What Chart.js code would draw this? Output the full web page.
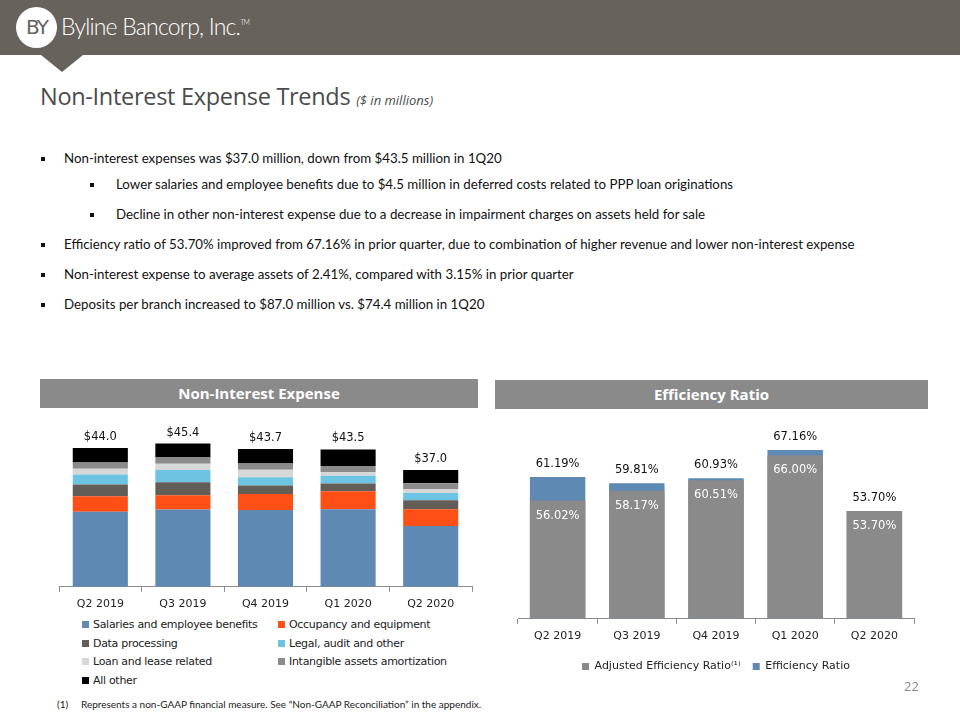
<!DOCTYPE html>
<html>
<head>
<meta charset="utf-8">
<script src="https://cdn.jsdelivr.net/npm/chart.js@4.4.0/dist/chart.umd.min.js"></script>
<style>
  body { margin: 0; width: 960px; height: 720px; position: relative; background: #fff; font-family: Lato, sans-serif; overflow: hidden; }
  .abs { position: absolute; }
  #header { left: 0; top: 0; width: 960px; height: 55px; background: #67625b; }
  #pointer { left: 41px; top: 55px; width: 0; height: 0; border-left: 21px solid transparent; border-right: 21px solid transparent; border-top: 17px solid #67625b; }
  #logoCircle { left: 16px; top: 7px; width: 41px; height: 41px; border-radius: 50%; background: #fff; color: #67625b; font: 400 20px "DejaVu Sans", sans-serif; text-align: center; line-height: 41px; letter-spacing: -2px; }
  #logoText { left: 61px; top: 12px; color: #fff; font: 300 23px Lato, sans-serif; letter-spacing: -0.8px; }
  #logoText sup { font-size: 7px; vertical-align: 10px; }
  #title { left: 40px; top: 80px; color: #4b4b4b; font: 23.5px "Open Sans", sans-serif; letter-spacing: -0.3px; white-space: nowrap; }
  #title i { font-size: 13px; letter-spacing: 0; }
  .bul { font-size: 13.3px; color: #111; white-space: nowrap; }
  .bul::before { content: ""; position: absolute; width: 4px; height: 4px; background: #111; top: 7px; }
  .l1 { left: 64px; } .l1::before { left: -23px; }
  .l2 { left: 116px; } .l2::before { left: -26px; }
  .sect { height: 29px; background: #8a8a8b; color: #fff; font: 700 15px "Open Sans", sans-serif; text-align: center; line-height: 29px; }
  .leg { font: 11px "DejaVu Sans", sans-serif; color: #222; white-space: nowrap; letter-spacing: -0.3px; }
  .leg span { display: inline-block; width: 7px; height: 7px; margin-right: 4px; }
  #foot { left: 57px; top: 698px; font-size: 10px; color: #222; white-space: nowrap; }
  #page { left: 904px; top: 677px; font: 13px "Open Sans", sans-serif; color: #8a8a8a; }
</style>
</head>
<body>
<div id="header" class="abs"></div>
<div id="pointer" class="abs"></div>
<div id="logoCircle" class="abs">BY</div>
<div id="logoText" class="abs">Byline Bancorp, Inc.<sup>TM</sup></div>
<div id="title" class="abs">Non-Interest Expense Trends <i>($ in millions)</i></div>

<div class="abs bul l1" style="top:150px">Non-interest expenses was $37.0 million, down from $43.5 million in 1Q20</div>
<div class="abs bul l2" style="top:176px">Lower salaries and employee benefits due to $4.5 million in deferred costs related to PPP loan originations</div>
<div class="abs bul l2" style="top:206px">Decline in other non-interest expense due to a decrease in impairment charges on assets held for sale</div>
<div class="abs bul l1" style="top:236px">Efficiency ratio of 53.70% improved from 67.16% in prior quarter, due to combination of higher revenue and lower non-interest expense</div>
<div class="abs bul l1" style="top:266px">Non-interest expense to average assets of 2.41%, compared with 3.15% in prior quarter</div>
<div class="abs bul l1" style="top:296px">Deposits per branch increased to $87.0 million vs. $74.4 million in 1Q20</div>

<div class="abs sect" style="left:40px;top:379px;width:438px">Non-Interest Expense</div>
<div class="abs sect" style="left:495px;top:380px;width:433px">Efficiency Ratio</div>

<div class="abs" style="left:40px;top:417px;width:440px;height:200px"><canvas id="expenseChart"></canvas></div>
<div id="expenseLegend" class="abs" style="left:82px;top:618px;width:400px"></div>
<div class="abs" style="left:495px;top:425px;width:435px;height:257px"><canvas id="ratioChart"></canvas></div>

<div id="foot" class="abs">(1)&nbsp;&nbsp;&nbsp;&nbsp;&nbsp;Represents a non-GAAP financial measure. See “Non-GAAP Reconciliation” in the appendix.</div>
<div id="page" class="abs">22</div>

<script>
var quarters = ["Q2 2019", "Q3 2019", "Q4 2019", "Q1 2020", "Q2 2020"];

// non-interest expense, $ millions
var salaries = [23.8, 24.5, 24.3, 24.6, 19.3];
var occupancy = [4.9, 4.5, 5.1, 5.7, 5.3];
var dataProcessing = [3.7, 4.1, 2.7, 2.4, 2.8];
var legalAudit = [3.2, 3.9, 2.6, 2.5, 2.3];
var loanLease = [1.8, 2.0, 2.4, 1.2, 1.2];
var intangibles = [2.0, 2.1, 2.0, 1.9, 1.9];
var allOther = [4.6, 4.3, 4.6, 5.2, 4.2];
var totals = [44.0, 45.4, 43.7, 43.5, 37.0];

// efficiency ratio, %
var adjustedRatio = [56.02, 58.17, 60.51, 66.00, 53.70];
var efficiencyRatio = [61.19, 59.81, 60.93, 67.16, 53.70];

var expenseSeries = [
  { label: "Salaries and employee benefits", data: salaries, color: "#5d89b3" },
  { label: "Occupancy and equipment", data: occupancy, color: "#fd4f16" },
  { label: "Data processing", data: dataProcessing, color: "#625d57" },
  { label: "Legal, audit and other", data: legalAudit, color: "#6dc4e2" },
  { label: "Loan and lease related", data: loanLease, color: "#d7d7d7" },
  { label: "Intangible assets amortization", data: intangibles, color: "#8b8b8b" },
  { label: "All other", data: allOther, color: "#000000" }
];

var axisFont = { family: "DejaVu Sans", size: 11 };

function xAxis(stacked) {
  return {
    stacked: stacked,
    grid: { drawOnChartArea: false, drawTicks: true, tickLength: 5, color: "#8c8c8c" },
    border: { display: true, color: "#8c8c8c" },
    ticks: { color: "#222", font: axisFont, padding: 6 }
  };
}

// totals over the stacks
var totalLabels = {
  id: "totalLabels",
  afterDatasetsDraw: function(chart) {
    var ctx = chart.ctx;
    var meta = chart.getDatasetMeta(chart.data.datasets.length - 1);
    ctx.save();
    ctx.font = "11.5px DejaVu Sans";
    ctx.fillStyle = "#111";
    ctx.textAlign = "center";
    ctx.textBaseline = "middle";
    meta.data.forEach(function(bar, i) {
      ctx.fillText("$" + totals[i].toFixed(1), bar.x, bar.y - 11);
    });
    ctx.restore();
  }
};

// ratio labels: reported above, adjusted inside
var ratioLabels = {
  id: "ratioLabels",
  afterDatasetsDraw: function(chart) {
    var ctx = chart.ctx;
    var adj = chart.getDatasetMeta(0);
    var eff = chart.getDatasetMeta(1);
    ctx.save();
    ctx.font = "11.5px DejaVu Sans";
    ctx.textAlign = "center";
    ctx.textBaseline = "middle";
    eff.data.forEach(function(bar, i) {
      ctx.fillStyle = "#111";
      ctx.fillText(efficiencyRatio[i].toFixed(2) + "%", bar.x, bar.y - 13);
    });
    adj.data.forEach(function(bar, i) {
      ctx.fillStyle = "#fff";
      ctx.fillText(adjustedRatio[i].toFixed(2) + "%", bar.x, bar.y + 15);
    });
    ctx.restore();
  }
};

new Chart(document.getElementById("expenseChart"), {
  type: "bar",
  data: {
    labels: quarters,
    datasets: expenseSeries.map(function(s) {
      return { label: s.label, data: s.data, backgroundColor: s.color, categoryPercentage: 1, barPercentage: 0.667 };
    })
  },
  options: {
    responsive: true,
    maintainAspectRatio: false,
    animation: false,
    layout: { padding: { left: 19, right: 8, top: 12, bottom: 0 } },
    plugins: { legend: { display: false }, tooltip: { enabled: false } },
    scales: {
      x: xAxis(true),
      y: { stacked: true, display: false, min: 0, max: 50 }
    }
  },
  plugins: [totalLabels]
});

var legendBox = document.getElementById("expenseLegend");
expenseSeries.forEach(function(s, i) {
  var item = document.createElement("div");
  item.className = "abs leg";
  item.style.left = (i % 2 === 0 ? 0 : 196) + "px";
  item.style.top = (Math.floor(i / 2) * 18.5) + "px";
  item.innerHTML = '<span style="background:' + s.color + '"></span>' + s.label;
  legendBox.appendChild(item);
});

new Chart(document.getElementById("ratioChart"), {
  type: "bar",
  data: {
    labels: quarters,
    datasets: [
      { label: "Adjusted Efficiency Ratio⁽¹⁾", data: adjustedRatio, backgroundColor: "#8a8a8b", categoryPercentage: 1, barPercentage: 0.7 },
      { label: "Efficiency Ratio", data: efficiencyRatio, backgroundColor: "#5d89b3", categoryPercentage: 1, barPercentage: 0.7 }
    ]
  },
  options: {
    responsive: true,
    maintainAspectRatio: false,
    animation: false,
    layout: { padding: { left: 23, right: 16, top: 12, bottom: 0 } },
    plugins: {
      legend: {
        position: "bottom",
        labels: { boxWidth: 7, boxHeight: 7, padding: 12, color: "#222", font: axisFont }
      },
      tooltip: { enabled: false }
    },
    scales: {
      x: xAxis(true),
      y: { stacked: false, display: false, min: 30, max: 70 }
    }
  },
  plugins: [ratioLabels]
});
</script>
</body>
</html>
